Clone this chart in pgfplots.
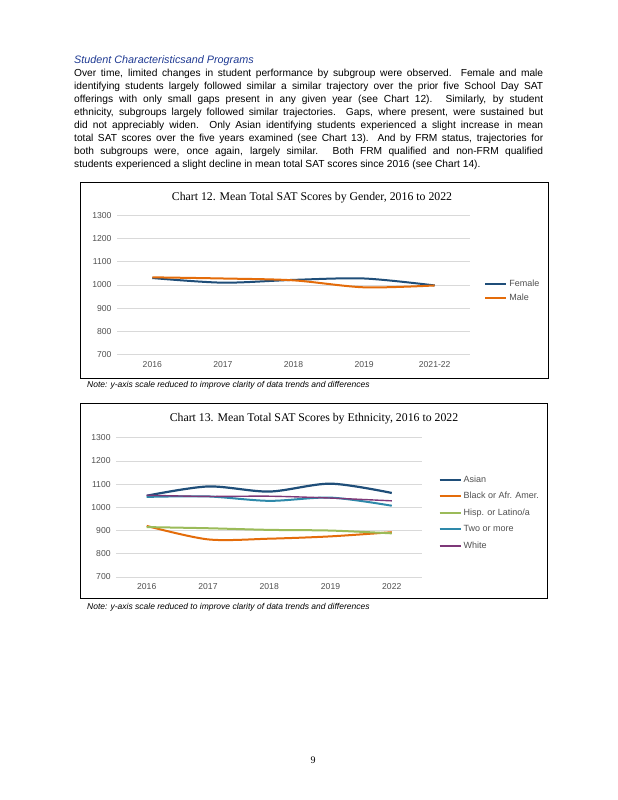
\documentclass[border=0pt]{standalone}
\usepackage{pgfplots}
\pgfplotsset{compat=1.18}
\usepackage{fontspec}
\setmainfont{Liberation Sans}
\newfontfamily\tnr{Liberation Serif}
\definecolor{fem}{HTML}{1F4E79}
\definecolor{mal}{HTML}{E46C0A}
\definecolor{hisp}{HTML}{9BBB59}
\definecolor{two}{HTML}{2E89AA}
\definecolor{wht}{HTML}{7E3878}
\definecolor{headblue}{HTML}{1F3A93}
\definecolor{tickgray}{HTML}{505050}
\pgfplotsset{
  satstyle/.style={
    scale only axis,
    ymin=700, ymax=1300,
    xmin=-0.5, xmax=4.5,
    ytick={700,800,...,1300},
    xtick={0,1,2,3,4},
    axis line style={draw=none},
    major tick length=0pt,
    ymajorgrids,
    grid style={draw=gray!30, line width=0.6pt},
    tick label style={font=\fontsize{8.6}{9.5}\selectfont, text=tickgray},
    /pgf/number format/assume math mode=true,
    /pgf/number format/1000 sep={},
    yticklabel style={xshift=-2pt},
    xticklabel style={yshift=-3pt},
    legend style={draw=none, fill=none, font=\fontsize{9}{10}\selectfont, text=tickgray, cells={anchor=west}, row sep=2pt, inner sep=0pt},
    legend image code/.code={\draw[#1, line width=2pt] (0pt,0pt) -- (21pt,0pt);},
    every axis plot/.append style={smooth, tension=0.5, no markers},
  }
}
\begin{document}
\begin{tikzpicture}[x=1pt,y=1pt]
\path[fill=white] (0,0) rectangle (618,800);
% heading
\node[anchor=west, inner sep=0pt, font=\fontsize{10.8}{12}\selectfont\itshape, text=headblue] at (74,739) {Student Characteristicsand Programs};
\node[anchor=north west, inner sep=0pt, text width=469pt, align=justify, font=\fontsize{10.2}{12.93}\selectfont] at (74,731) {Over time, limited changes in student performance by subgroup were observed. Female and male\linebreak identifying students largely followed similar a similar trajectory over the prior five School Day SAT\linebreak offerings with only small gaps present in any given year (see Chart 12). Similarly, by student\linebreak ethnicity, subgroups largely followed similar trajectories. Gaps, where present, were sustained but\linebreak did not appreciably widen. Only Asian identifying students experienced a slight increase in mean\linebreak total SAT scores over the five years examined (see Chart 13). And by FRM status, trajectories for\linebreak both subgroups were, once again, largely similar. Both FRM qualified and non-FRM qualified\linebreak students experienced a slight decline in mean total SAT scores since 2016 (see Chart 14).};
% chart 12 box
\draw[black, line width=0.8pt] (80,422) rectangle (548,618);
\node[font=\tnr\fontsize{11.8}{13}\selectfont] at (312,602) {Chart 12. Mean Total SAT Scores by Gender, 2016 to 2022};
\begin{axis}[satstyle, at={(117pt,445.3pt)}, anchor=south west, width=353pt, height=139.4pt,
  xticklabels={2016,2017,2018,2019,2021-22},
  legend style={at={(1.04,0.458)}, anchor=west}]
\addplot[fem, line width=2pt] coordinates {(0,1030) (1,1010) (2,1022) (3,1028) (4,998)};
\addplot[mal, line width=2pt] coordinates {(0,1033) (1,1028) (2,1020) (3,990) (4,998)};
\legend{Female, Male}
\end{axis}
\node[anchor=west, inner sep=0pt, font=\fontsize{8.5}{9}\selectfont\itshape] at (87,414.5) {Note: y-axis scale reduced to improve clarity of data trends and differences};
% chart 13 box
\draw[black, line width=0.8pt] (80,202) rectangle (547,397);
\node[font=\tnr\fontsize{11.8}{13}\selectfont] at (314,381) {Chart 13. Mean Total SAT Scores by Ethnicity, 2016 to 2022};
\begin{axis}[satstyle, at={(116.1pt,223pt)}, anchor=south west, width=306.3pt, height=139.3pt,
  xticklabels={2016,2017,2018,2019,2022},
  legend style={at={(1.052,0.461)}, anchor=west, row sep=4.5pt}]
\addplot[fem, line width=2.2pt] coordinates {(0,1050) (1,1090) (2,1068) (3,1102) (4,1062)};
\addplot[mal, line width=2pt] coordinates {(0,920) (1,862) (2,865) (3,875) (4,893)};
\addplot[hisp, line width=2pt] coordinates {(0,915) (1,910) (2,903) (3,900) (4,888)};
\addplot[two, line width=2pt] coordinates {(0,1045) (1,1047) (2,1028) (3,1042) (4,1007)};
\addplot[wht, line width=1.4pt] coordinates {(0,1052) (1,1047) (2,1048) (3,1040) (4,1028)};
\legend{Asian, Black or Afr. Amer., Hisp. or Latino/a, Two or more, White}
\end{axis}
\node[anchor=west, inner sep=0pt, font=\fontsize{8.5}{9}\selectfont\itshape] at (87,193) {Note: y-axis scale reduced to improve clarity of data trends and differences};
\node[font=\tnr\fontsize{10}{12}\selectfont] at (313,40) {9};
\end{tikzpicture}
\end{document}
